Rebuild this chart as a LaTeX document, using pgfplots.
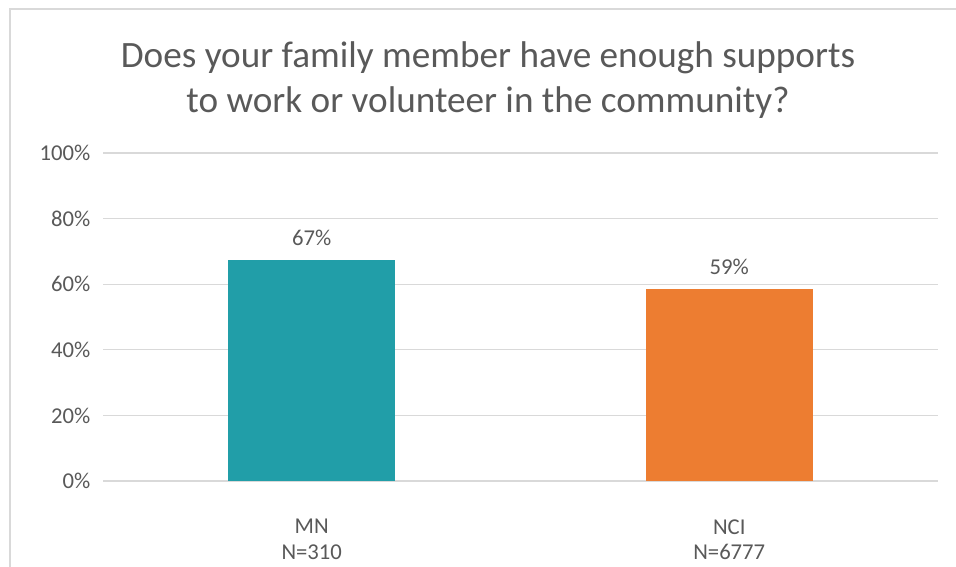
\documentclass[border=0pt]{standalone}
\usepackage{pgfplots}
\pgfplotsset{compat=1.18}
\usepackage{fontspec}
\setmainfont{Carlito}
\definecolor{txt}{HTML}{595959}
\definecolor{gridc}{HTML}{D9D9D9}
\definecolor{teal}{HTML}{219EA8}
\definecolor{orng}{HTML}{ED7D31}
\begin{document}
\begin{tikzpicture}[x=0.75pt,y=0.75pt]
\useasboundingbox (0,0) rectangle (956,567);
\draw[gridc,line width=1.5pt] (10,0) -- (10,558) -- (956,558);
\node[text=txt,font=\fontsize{27.9}{34}\selectfont,align=center] at (488,487) {Does your family member have enough supports\\to work or volunteer in the community?};
\begin{axis}[
  at={(77.25pt,64.5pt)}, anchor=south west,
  scale only axis, width=626.25pt, height=246pt,
  xmin=-0.5, xmax=1.5, ymin=0, ymax=100,
  axis line style={draw=none}, tick style={draw=none},
  ytick={0,20,...,100},
  yticklabel={\pgfmathprintnumber{\tick}\%},
  /pgf/number format/assume math mode=true,
  ymajorgrids, xmajorgrids=false, grid style={gridc,line width=0.9pt},
  xtick={0,1}, xticklabels={MN\\N=310,NCI\\N=6777},
  xticklabel style={align=center,text=txt,font=\fontsize{17}{19}\selectfont,yshift=-21pt},
  yticklabel style={text=txt,font=\fontsize{17}{20}\selectfont,xshift=-6pt},
  ybar, bar width=125.25pt, bar shift=0pt,
  point meta=explicit symbolic,
  nodes near coords,
  nodes near coords style={text=txt,font=\fontsize{17}{20}\selectfont,yshift=7pt},
]
\addplot[fill=teal,draw=none,bar shift=0pt] coordinates {(0,67.4) [67\%]};
\addplot[fill=orng,draw=none,bar shift=0pt] coordinates {(1,58.6) [59\%]};
\end{axis}
\end{tikzpicture}
\end{document}
